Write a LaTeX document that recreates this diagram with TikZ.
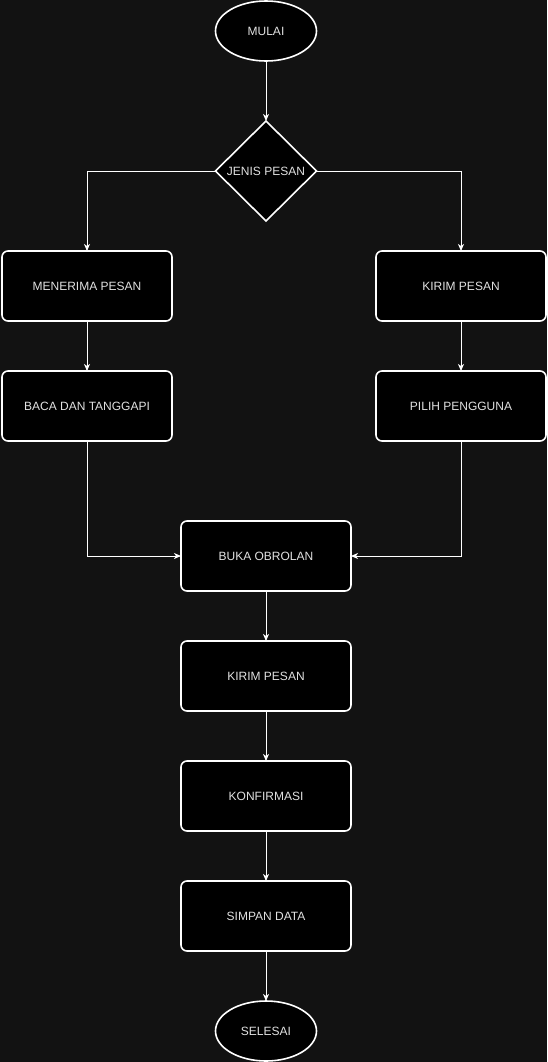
\documentclass[tikz,border=0pt]{standalone}
\usepackage{fontspec}
\setmainfont{Liberation Sans}
\usetikzlibrary{arrows.meta, positioning, shapes.geometric}
\definecolor{bgdark}{RGB}{18,18,18}
\definecolor{txtgray}{RGB}{225,225,225}

\begin{document}
\begin{tikzpicture}[x=1pt, y=1pt, node distance=50pt,
    every node/.style={draw=white, fill=black, text=txtgray, line width=1.6pt, outer sep=0pt, font=\fontsize{12}{14}\selectfont},
    term/.style={ellipse, minimum width=101pt, minimum height=60pt, inner sep=0pt},
    choice/.style={diamond, minimum width=101pt, minimum height=100pt, inner sep=0pt, aspect=1.01},
    proc/.style={rectangle, rounded corners=6pt, minimum width=170pt, minimum height=70pt, inner sep=0pt},
    link/.style={draw=white, line width=0.9pt, -{Stealth[length=7pt, width=6pt, inset=2pt]}}]
    % Background
    \fill[bgdark] (0,0) rectangle (547,-1062);
    \useasboundingbox (0,0) rectangle (547,-1062);
    % Start and decision
    \node[term] (mulai) at (266,-31) {MULAI};
    \node[choice] (jenis) [below=60pt of mulai] {JENIS PESAN};
    % Left branch
    \node[proc] (terima) [below=30pt of jenis, xshift=-179pt] {MENERIMA PESAN};
    \node[proc] (baca) [below=of terima] {BACA DAN TANGGAPI};
    % Right branch
    \node[proc] (kirimkanan) [below=30pt of jenis, xshift=195pt] {KIRIM PESAN};
    \node[proc] (pilih) [below=of kirimkanan] {PILIH PENGGUNA};
    % Main chain
    \node[proc] (buka) at (266,-556) {BUKA OBROLAN};
    \node[proc] (kirim) [below=of buka] {KIRIM PESAN};
    \node[proc] (konfirmasi) [below=of kirim] {KONFIRMASI};
    \node[proc] (simpan) [below=of konfirmasi] {SIMPAN DATA};
    \node[term] (selesai) [below=of simpan] {SELESAI};

    % Edges
    \draw[link] (mulai) -- (jenis);
    \draw[link] (jenis.west) -| (terima.north);
    \draw[link] (jenis.east) -| (kirimkanan.north);
    \draw[link] (terima) -- (baca);
    \draw[link] (kirimkanan) -- (pilih);
    \draw[link] (baca.south) |- (buka.west);
    \draw[link] (pilih.south) |- (buka.east);
    \draw[link] (buka) -- (kirim);
    \draw[link] (kirim) -- (konfirmasi);
    \draw[link] (konfirmasi) -- (simpan);
    \draw[link] (simpan) -- (selesai);
\end{tikzpicture}
\end{document}
